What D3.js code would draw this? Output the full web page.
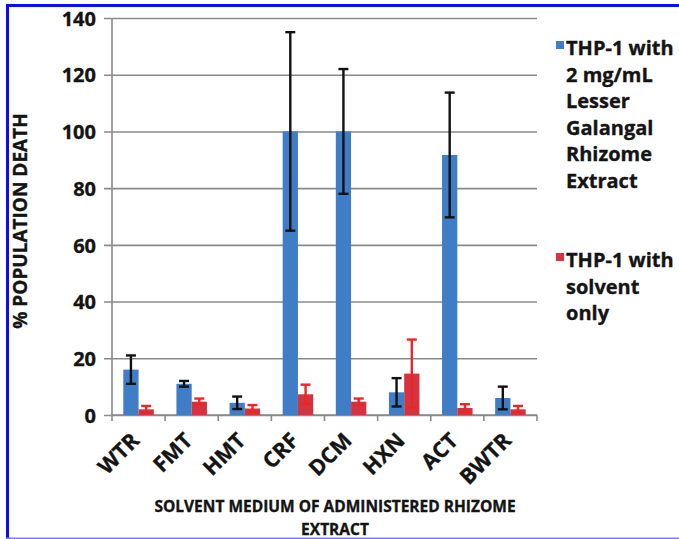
<!DOCTYPE html>
<html>
<head>
<meta charset="utf-8">
<script src="https://cdn.jsdelivr.net/npm/d3@7"></script>
<style>
  html, body { margin: 0; padding: 0; background: #fff; }
  svg { display: block; }
  text { font-family: "Open Sans", "DejaVu Sans", sans-serif; font-weight: 700; fill: #141414; stroke: #141414; stroke-width: 0.35px; }
</style>
</head>
<body>
<svg id="chart" width="679" height="539"></svg>
<script>
// Solvent media of the administered rhizome extract
const categories = ["WTR", "FMT", "HMT", "CRF", "DCM", "HXN", "ACT", "BWTR"];
const seriesNames = ["extract", "solvent"];

// % population death, THP-1 with 2 mg/mL Lesser Galangal Rhizome Extract
const extractValues = [16, 11, 4.3, 100, 100, 8, 91.7, 6];
const extractErrors = [5, 1, 2.2, 35, 22, 5, 22, 4];

// % population death, THP-1 with solvent only
const solventValues = [2, 4.7, 2.3, 7.3, 4.7, 14.6, 2.5, 2];
const solventErrors = [1.2, 1.1, 1.2, 3.4, 1.1, 12, 1.3, 1.2];

const yTicks = [0, 20, 40, 60, 80, 100, 120, 140];

const legendLines = [
  ["THP-1 with", "2 mg/mL", "Lesser", "Galangal", "Rhizome", "Extract"],
  ["THP-1 with", "solvent", "only"]
];

const colors = { extract: "#3f7ec6", solvent: "#d3343f" };
const errColors = { extract: "#111111", solvent: "#ec2626" };

const svg = d3.select("#chart");
const plot = { left: 112, right: 537, top: 18, bottom: 415 };

const y = d3.scaleLinear().domain([0, 140]).range([plot.bottom, plot.top]);
const x0 = d3.scaleBand().domain(categories).range([plot.left, plot.right]).paddingInner(0).paddingOuter(0);
const x1 = d3.scaleBand().domain(seriesNames).range([0, x0.bandwidth()]).paddingInner(0).paddingOuter(0.74);

// frame
svg.append("line").attr("x1", 6).attr("x2", 679).attr("y1", 5.5).attr("y2", 5.5)
  .attr("stroke", "#0a0aff").attr("stroke-width", 3);
svg.append("line").attr("x1", 7.5).attr("x2", 7.5).attr("y1", 4).attr("y2", 539)
  .attr("stroke", "#0a0aff").attr("stroke-width", 3);
svg.append("line").attr("x1", 6).attr("x2", 679).attr("y1", 538.3).attr("y2", 538.3)
  .attr("stroke", "#7b7bff").attr("stroke-width", 1.5);

// y axis with gridlines
const yAxis = svg.append("g")
  .attr("transform", `translate(${plot.left},0)`)
  .call(d3.axisLeft(y).tickValues(yTicks).tickSize(-(plot.right - plot.left)).tickPadding(16).tickFormat(d3.format("d")));
yAxis.select(".domain").remove();
yAxis.selectAll(".tick line").attr("stroke", "#8a8a8a").attr("stroke-width", 1.6).attr("x1", -8);
yAxis.selectAll(".tick text").attr("font-size", 20).attr("fill", "#141414")
  .attr("font-family", "'Open Sans', sans-serif").attr("font-weight", 700).attr("dy", "0.36em");
svg.append("line").attr("x1", plot.left).attr("x2", plot.left).attr("y1", plot.top).attr("y2", plot.bottom)
  .attr("stroke", "#8a8a8a").attr("stroke-width", 1.6);

// x axis with ticks at category boundaries
const xBounds = categories.map(c => x0(c)).concat([plot.right]);
svg.append("line").attr("x1", plot.left).attr("x2", plot.right).attr("y1", plot.bottom).attr("y2", plot.bottom)
  .attr("stroke", "#8a8a8a").attr("stroke-width", 1.6);
svg.append("g").selectAll("line").data(xBounds).join("line")
  .attr("x1", d => d).attr("x2", d => d).attr("y1", plot.bottom).attr("y2", plot.bottom + 6)
  .attr("stroke", "#8a8a8a").attr("stroke-width", 1.6);

// category labels
svg.append("g").selectAll("text").data(categories).join("text")
  .attr("transform", d => `translate(${x0(d) + x0.bandwidth() / 2 + 2},${plot.bottom + 27}) rotate(-45)`)
  .attr("text-anchor", "end")
  .attr("font-size", 21.5)
  .text(d => d);

// bars
const rows = categories.map((c, i) => ({
  cat: c,
  items: [
    { key: "extract", value: extractValues[i], err: extractErrors[i] },
    { key: "solvent", value: solventValues[i], err: solventErrors[i] }
  ]
}));

const groups = svg.append("g").selectAll("g").data(rows).join("g")
  .attr("transform", d => `translate(${x0(d.cat)},0)`);

groups.selectAll("rect").data(d => d.items).join("rect")
  .attr("x", d => x1(d.key))
  .attr("width", x1.bandwidth())
  .attr("y", d => y(d.value))
  .attr("height", d => y(0) - y(d.value))
  .attr("fill", d => colors[d.key]);

// error bars
const capHalf = 5;
const err = groups.selectAll("g.err").data(d => d.items).join("g").attr("class", "err")
  .attr("stroke", d => errColors[d.key]).attr("stroke-width", 2.4);
err.append("line")
  .attr("x1", d => x1(d.key) + x1.bandwidth() / 2).attr("x2", d => x1(d.key) + x1.bandwidth() / 2)
  .attr("y1", d => y(d.value + d.err)).attr("y2", d => y(Math.max(0, d.value - d.err)));
err.append("line")
  .attr("x1", d => x1(d.key) + x1.bandwidth() / 2 - capHalf).attr("x2", d => x1(d.key) + x1.bandwidth() / 2 + capHalf)
  .attr("y1", d => y(d.value + d.err)).attr("y2", d => y(d.value + d.err));
err.append("line")
  .attr("x1", d => x1(d.key) + x1.bandwidth() / 2 - capHalf).attr("x2", d => x1(d.key) + x1.bandwidth() / 2 + capHalf)
  .attr("y1", d => y(Math.max(0, d.value - d.err))).attr("y2", d => y(Math.max(0, d.value - d.err)));

// axis titles
svg.append("text")
  .attr("transform", "translate(27,221) rotate(-90)")
  .attr("text-anchor", "middle")
  .attr("font-size", 19)
  .text("% POPULATION DEATH");

const xTitle = svg.append("g").attr("font-size", 15.5);
xTitle.append("text").attr("text-anchor", "middle").attr("x", 335).attr("y", 512)
  .text("SOLVENT MEDIUM OF ADMINISTERED RHIZOME");
xTitle.append("text").attr("text-anchor", "middle").attr("x", 335).attr("y", 534.5)
  .text("EXTRACT");

// legend
const legendTops = [49, 261];
const legend = svg.append("g").selectAll("g").data(seriesNames).join("g")
  .attr("transform", (d, i) => `translate(556,${legendTops[i]})`);
legend.append("rect").attr("x", 0).attr("y", -8).attr("width", 8).attr("height", 8)
  .attr("fill", d => colors[d]);
legend.each(function(d, i) {
  const t = d3.select(this).append("text").attr("font-size", 20);
  legendLines[i].forEach((line, j) => {
    t.append("tspan").attr("x", 10).attr("y", 6 + j * 26.5).text(line);
  });
});
</script>
</body>
</html>
